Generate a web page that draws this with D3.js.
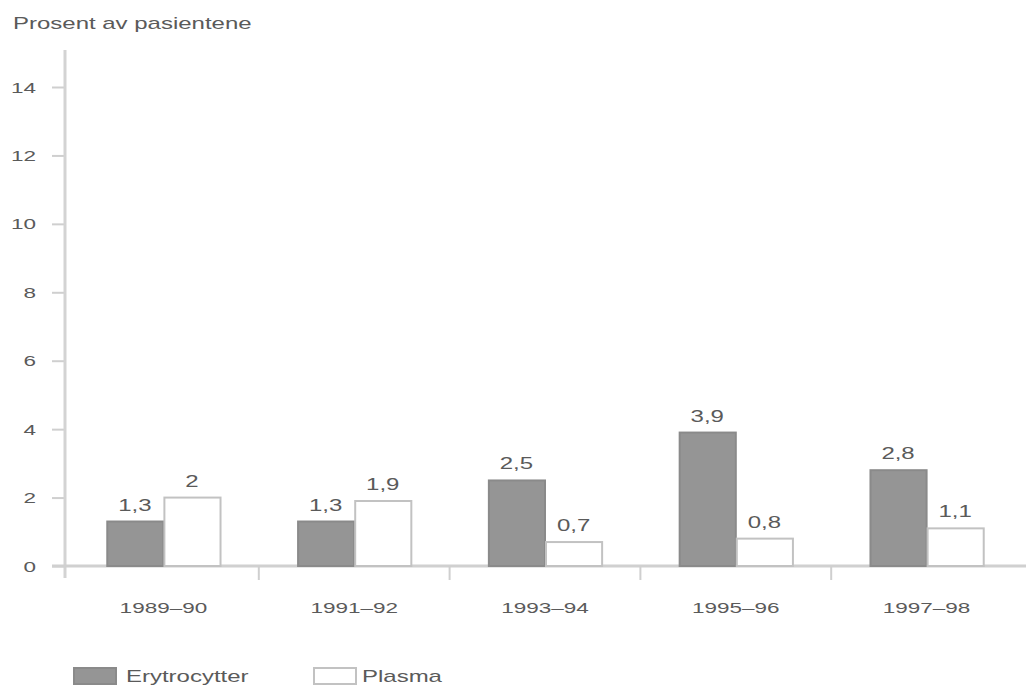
<!DOCTYPE html>
<html>
<head>
<meta charset="utf-8">
<script src="https://cdn.jsdelivr.net/npm/d3@7"></script>
<style>
  html, body { margin: 0; padding: 0; background: #fff; }
  svg { display: block; }
  text { font-family: "Liberation Sans", Arial, sans-serif; fill: #5a5a5a; }
</style>
</head>
<body>
<svg id="chart" width="1026" height="697"></svg>
<script>
// Transfusion share per period (percent of patients)
const periods = ["1989–90", "1991–92", "1993–94", "1995–96", "1997–98"];
const seriesNames = ["Erytrocytter", "Plasma"];
const erytrocytter = [1.3, 1.3, 2.5, 3.9, 2.8];
const plasma = [2, 1.9, 0.7, 0.8, 1.1];
const yTicks = [0, 2, 4, 6, 8, 10, 12, 14];
const yTitle = "Prosent av pasientene";

const W = 1026, H = 697;
const SX = 1.5; // wide lettering
const fmt = v => String(v).replace(".", ",");

const svg = d3.select("#chart");

const x = d3.scaleBand().domain(periods).range([68, 1022]).paddingInner(0).paddingOuter(0);
const x1 = d3.scaleBand().domain(seriesNames).range([0, x.bandwidth()]).paddingInner(0).paddingOuter(0.67);
const y = d3.scaleLinear().domain([0, 14]).range([566, 87]);

const fills = { "Erytrocytter": "#959595", "Plasma": "#ffffff" };
const strokes = { "Erytrocytter": "#8a8a8a", "Plasma": "#c2c2c2" };
const valuesBy = { "Erytrocytter": erytrocytter, "Plasma": plasma };

// helper: horizontally stretched text
function wideText(sel, x0, y0, str, size, anchor) {
  return sel.append("g")
    .attr("transform", `translate(${x0},${y0}) scale(${SX},1)`)
    .append("text")
    .attr("font-size", size)
    .attr("text-anchor", anchor || "start")
    .text(str);
}

// y-axis title
wideText(svg, 13, 29, yTitle, 16);

// y axis
const yAxis = d3.axisLeft(y).tickValues(yTicks).tickSize(13).tickPadding(0).tickFormat(() => "");
const yg = svg.append("g").attr("transform", "translate(65,0)").call(yAxis);
yg.select(".domain").remove();
yg.selectAll(".tick line").attr("stroke", "#cfcfcf").attr("stroke-width", 2);
yTicks.forEach(t => wideText(svg, 36, y(t) + 5.5, String(t), 15, "end"));

svg.append("line").attr("x1", 65).attr("x2", 65).attr("y1", 50).attr("y2", 578)
  .attr("stroke", "#d3d3d3").attr("stroke-width", 3);

// x axis baseline and category separators
svg.append("line").attr("x1", 52).attr("x2", W).attr("y1", y(0)).attr("y2", y(0))
  .attr("stroke", "#d0d0d0").attr("stroke-width", 3);
periods.slice(1).forEach(p => {
  svg.append("line").attr("x1", x(p)).attr("x2", x(p)).attr("y1", y(0)).attr("y2", y(0) + 14)
    .attr("stroke", "#cfcfcf").attr("stroke-width", 2);
});

// bars
const groups = svg.append("g").selectAll("g").data(periods).join("g")
  .attr("transform", d => `translate(${x(d)},0)`);

seriesNames.forEach(s => {
  groups.append("rect")
    .attr("x", () => x1(s) + 1)
    .attr("width", x1.bandwidth() - 1)
    .attr("y", (d, i) => y(valuesBy[s][i]))
    .attr("height", (d, i) => y(0) - y(valuesBy[s][i]))
    .attr("fill", fills[s])
    .attr("stroke", strokes[s])
    .attr("stroke-width", 2);
});

// value labels and category labels
periods.forEach((p, i) => {
  seriesNames.forEach(s => {
    const v = valuesBy[s][i];
    wideText(svg, x(p) + x1(s) + x1.bandwidth() / 2, y(v) - 11, fmt(v), 16, "middle");
  });
  wideText(svg, x(p) + x.bandwidth() / 2, 613, p, 15, "middle");
});

// legend
const legend = [
  { name: "Erytrocytter", rx: 74, tx: 126 },
  { name: "Plasma", rx: 314, tx: 362 }
];
legend.forEach(l => {
  svg.append("rect").attr("x", l.rx).attr("y", 668).attr("width", 42).attr("height", 16)
    .attr("fill", fills[l.name]).attr("stroke", strokes[l.name]).attr("stroke-width", 2);
  wideText(svg, l.tx, 682, l.name, 16);
});
</script>
</body>
</html>
